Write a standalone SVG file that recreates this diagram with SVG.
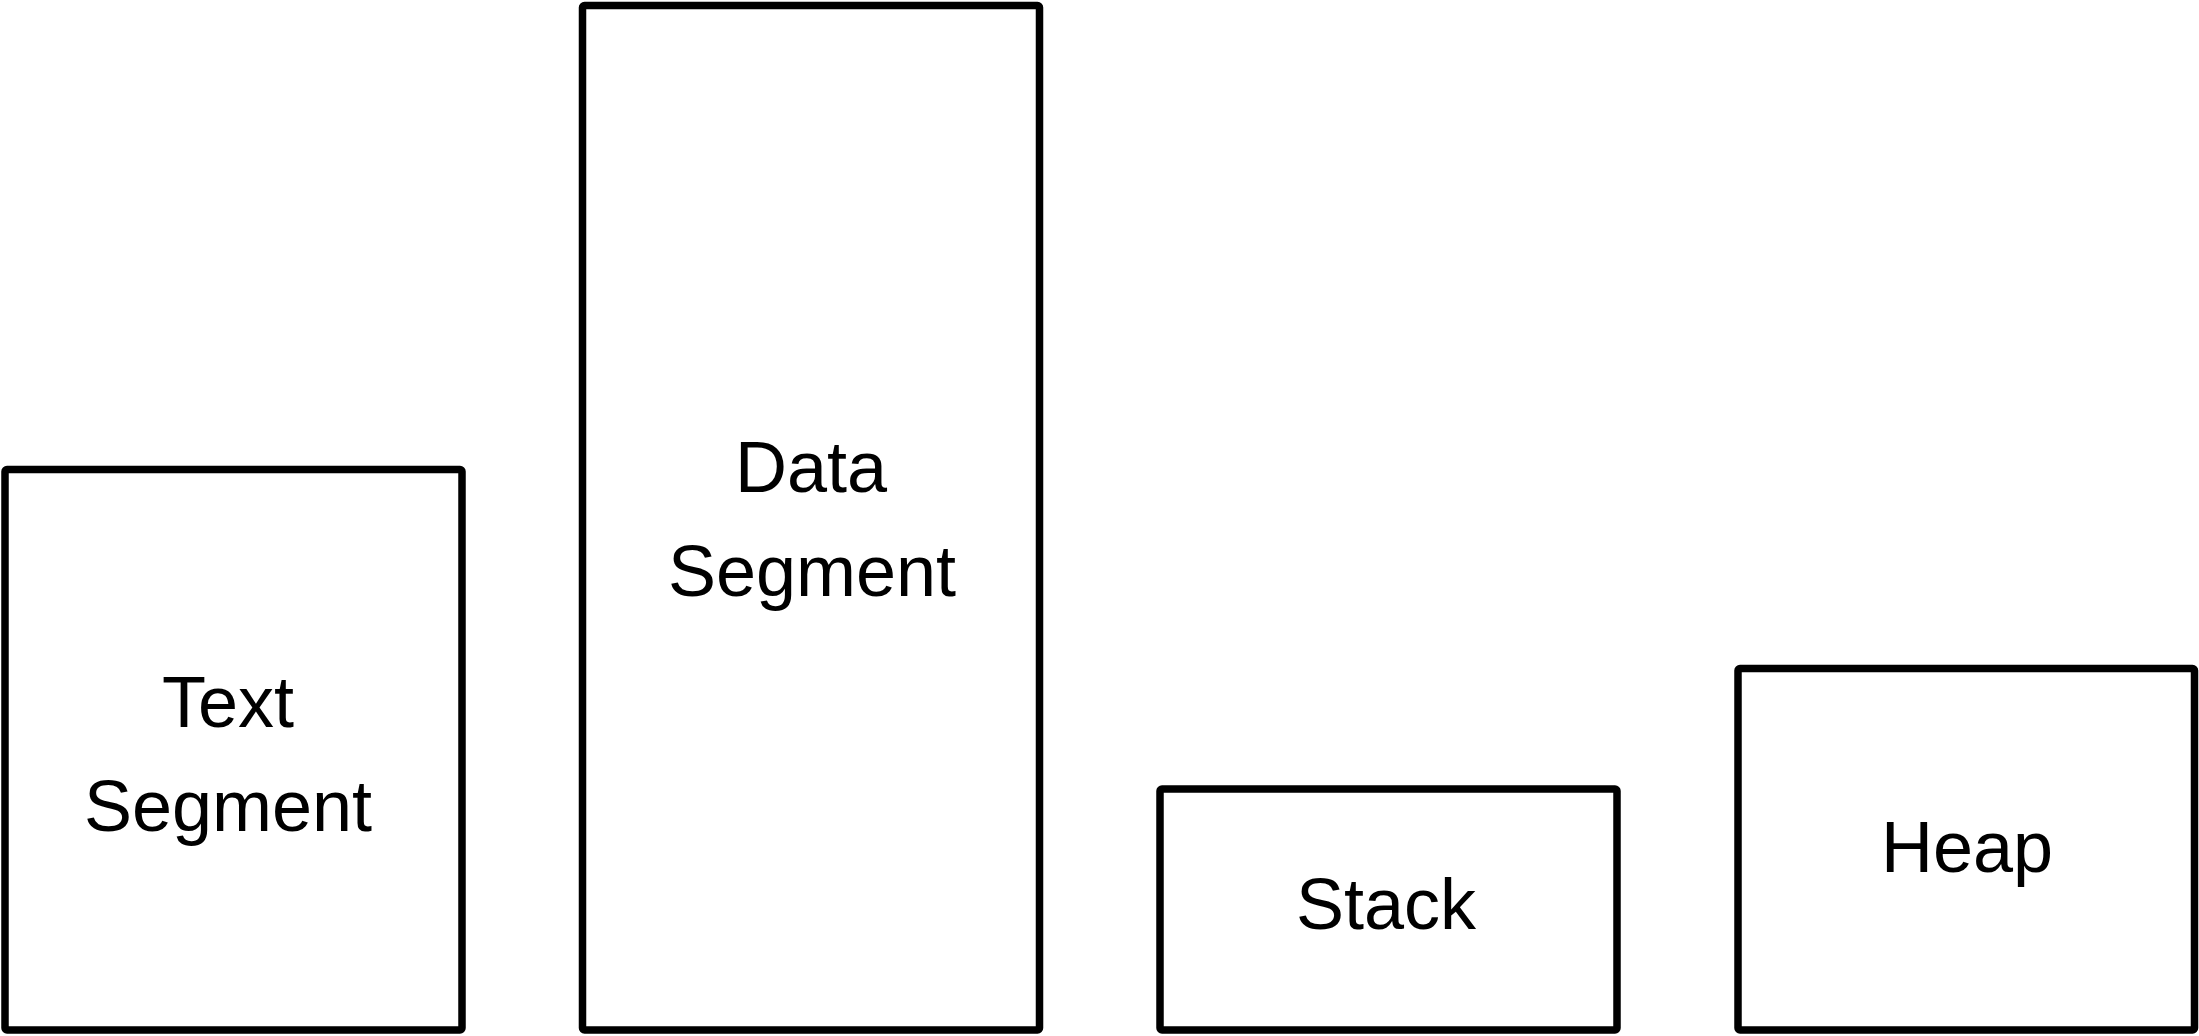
<svg xmlns="http://www.w3.org/2000/svg" width="2199" height="1036" viewBox="0 0 2199 1036">
<style>
.box{fill:#fff;stroke:#000;stroke-width:7.5;stroke-linejoin:round}
.lbl{font-family:"Liberation Sans",Arial,sans-serif;font-size:72px;fill:#000;text-anchor:middle}
</style>
<rect width="2199" height="1036" fill="#fff"/>
<g id="text-segment">
<rect class="box" x="5" y="469.5" width="457" height="560.5" rx="2"/>
<text class="lbl" x="228" y="727">Text</text>
<text class="lbl" x="228" y="831">Segment</text>
</g>
<g id="data-segment">
<rect class="box" x="582.5" y="5.5" width="457" height="1024.5" rx="2"/>
<text class="lbl" x="811" y="491.5">Data</text>
<text class="lbl" x="812" y="595.5">Segment</text>
</g>
<g id="stack">
<rect class="box" x="1160" y="789" width="457" height="241" rx="2"/>
<text class="lbl" x="1386" y="929">Stack</text>
</g>
<g id="heap">
<rect class="box" x="1738" y="668.5" width="456.5" height="361.5" rx="2"/>
<text class="lbl" x="1967" y="871.5">Heap</text>
</g>
<g id="connectors"></g>
</svg>
